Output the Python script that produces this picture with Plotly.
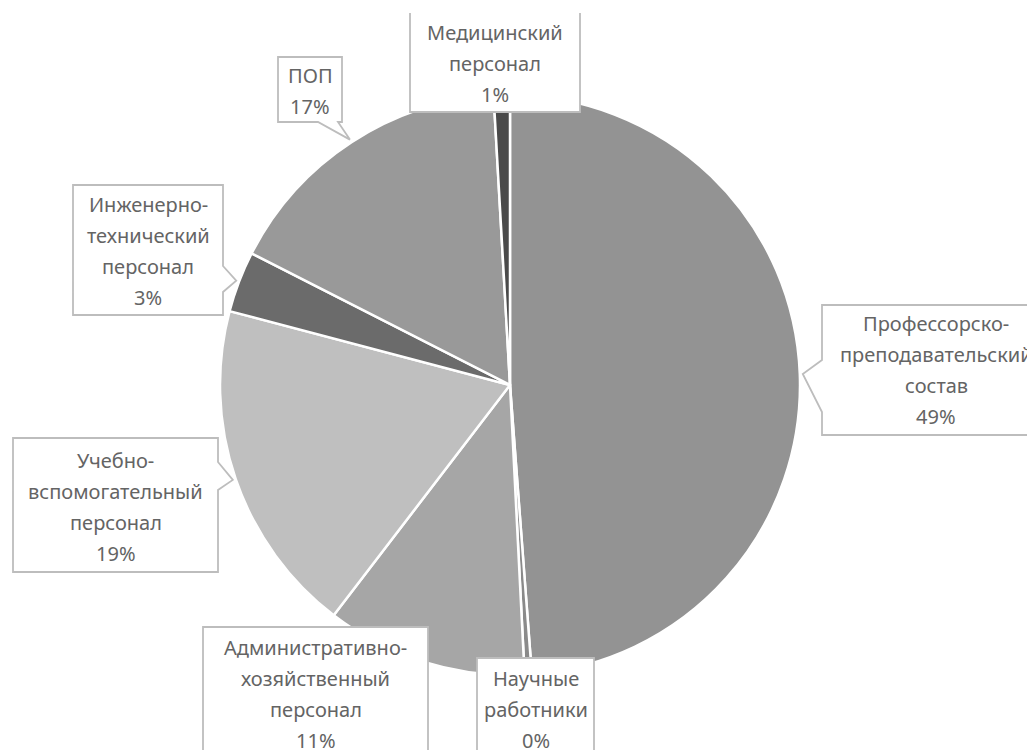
import math
import plotly.graph_objects as go

# ---------------- data ----------------
categories = [
    "Профессорско-преподавательский состав",
    "Научные работники",
    "Административно-хозяйственный персонал",
    "Учебно-вспомогательный персонал",
    "Инженерно-технический персонал",
    "ПОП",
    "Медицинский персонал",
]
values = [48.8, 0.4, 11.2, 18.7, 3.4, 16.6, 0.9]
display_labels = [
    "Профессорско-<br>преподавательский<br>состав",
    "Научные<br>работники",
    "Административно-<br>хозяйственный<br>персонал",
    "Учебно-<br>вспомогательный<br>персонал",
    "Инженерно-<br>технический<br>персонал",
    "ПОП",
    "Медицинский<br>персонал",
]
colors = ["#939393", "#8a8a8a", "#a6a6a6", "#bfbfbf", "#6b6b6b", "#999999", "#4a4a4a"]

# ---------------- layout (pixels, reference image coordinates) ----------------
W, H = 1035, 750
OFF = 8  # page body margin compensation
CX, CY, R = 510, 385, 290
LINE_STEP = 31
FONT = "Noto Sans"
TEXT_COLOR = "#646464"
BORDER_COLOR = "#bdbdbd"

boxes = [
    dict(x0=822, y0=305, x1=1060, y1=435, side="l", a=360, b=412),
    dict(x0=477, y0=658, x1=594, y1=770, side=None),
    dict(x0=203, y0=627, x1=428, y1=770, side=None),
    dict(x0=13, y0=438, x1=218, y1=572, side="r", a=462, b=490),
    dict(x0=73, y0=185, x1=223, y1=315, side="r", a=266, b=292),
    dict(x0=278, y0=57, x1=342, y1=122, side="b", a=318, b=338),
    dict(x0=410, y0=13, x1=580, y1=112, side=None, open_top=True),
]
text_centers_y = [370, 709, 694, 507, 251, 91, 63]


def px(x):
    return (x - OFF) / W


def py(y):
    return 1 - (y - OFF) / H


fig = go.Figure(
    go.Pie(
        labels=categories,
        values=values,
        sort=False,
        direction="clockwise",
        rotation=0,
        textinfo="none",
        hoverinfo="label+percent",
        marker=dict(colors=colors, line=dict(color="white", width=2.5)),
        showlegend=False,
        domain=dict(x=[px(CX - R), px(CX + R)], y=[py(CY + R), py(CY - R)]),
    )
)

total = sum(values)
cum = 0.0
shapes = []
annotations = []
for i, v in enumerate(values):
    theta = 2 * math.pi * (cum + v / 2) / total
    cum += v
    tipx = CX + (R + 3) * math.sin(theta)
    tipy = CY - (R + 3) * math.cos(theta)
    b = boxes[i]
    x0, y0, x1, y1 = b["x0"], b["y0"], b["x1"], b["y1"]
    pts = []
    if b.get("open_top"):
        pts = [(x0, y0), (x0, y1), (x1, y1), (x1, y0)]
        d = "M " + " L ".join(f"{px(x):.5f},{py(y):.5f}" for x, y in pts)
    else:
        pts.append((x0, y0))
        pts.append((x1, y0))
        if b["side"] == "r":
            pts += [(x1, b["a"]), (tipx, tipy), (x1, b["b"])]
        pts.append((x1, y1))
        if b["side"] == "b":
            pts += [(b["b"], y1), (tipx, tipy), (b["a"], y1)]
        pts.append((x0, y1))
        if b["side"] == "l":
            pts += [(x0, b["b"]), (tipx, tipy), (x0, b["a"])]
        d = "M " + " L ".join(f"{px(x):.5f},{py(y):.5f}" for x, y in pts) + " Z"
    shapes.append(dict(type="path", path=d, xref="paper", yref="paper",
                       fillcolor="white", line=dict(color=BORDER_COLOR, width=1.8),
                       layer="above"))

    pct = round(v / total * 100)
    lines = display_labels[i].split("<br>") + [f"{pct}%"]
    tx = (x0 + min(x1, 1050)) / 2
    n = len(lines)
    for k, t in enumerate(lines):
        ly = text_centers_y[i] + (k - (n - 1) / 2) * LINE_STEP
        annotations.append(dict(x=px(tx), y=py(ly), xref="paper", yref="paper",
                                text=t, showarrow=False, xanchor="center", yanchor="middle",
                                font=dict(family=FONT, size=20, color=TEXT_COLOR)))

fig.update_layout(
    width=W, height=H,
    margin=dict(l=0, r=0, t=0, b=0),
    paper_bgcolor="white", plot_bgcolor="white",
    shapes=shapes, annotations=annotations,
)

fig.write_html("out.html")
